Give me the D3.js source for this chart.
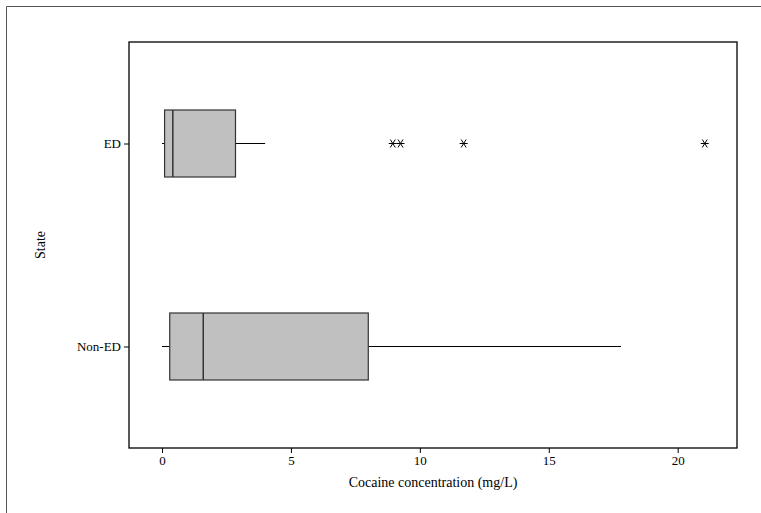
<!DOCTYPE html>
<html><head><meta charset="utf-8">
<script src="https://cdn.jsdelivr.net/npm/d3@7"></script>
<style>body{margin:0;background:#fff}text{font-family:"Liberation Serif","Times New Roman",serif}</style>
</head><body><svg width="761" height="513"></svg>
<script>
var states = ['ED', 'Non-ED'];
var whiskLo = [0, 0];
var q1 = [0.1, 0.3];
var median = [0.42, 1.6];
var q3 = [2.85, 8.0];
var whiskHi = [4.0, 17.8];
var outliers = [[8.95, 9.25, 11.7, 21.05], []];
var xTicks = [0, 5, 10, 15, 20];

var svg = d3.select('svg');
var L = 129, R = 737, T = 42, B = 448;

// outer frame
svg.append('path').attr('d', 'M6.5,513 V6.5 H761').attr('fill', 'none').attr('stroke', '#555');

var x = d3.scaleLinear().domain([-1.28, 22.3]).range([L, R]);
var y = d3.scalePoint().domain(states).range([T, B]).padding(0.5);

svg.append('rect').attr('x', L).attr('y', T).attr('width', R - L).attr('height', B - T)
  .attr('fill', 'none').attr('stroke', '#000').attr('stroke-width', 1.3);

var xa = svg.append('g').attr('transform', 'translate(0,' + B + ')')
  .call(d3.axisBottom(x).tickValues(xTicks).tickSize(5).tickPadding(3));
var ya = svg.append('g').attr('transform', 'translate(' + L + ',0)')
  .call(d3.axisLeft(y).tickSize(5).tickPadding(3));
[xa, ya].forEach(function (a) {
  a.select('.domain').remove();
  a.selectAll('text').attr('font-size', 13).attr('fill', '#000').style('font-family', '"Liberation Serif",serif');
});

var bh = 67;
states.forEach(function (s, i) {
  var cy = y(s);
  svg.append('line').attr('x1', x(whiskLo[i])).attr('x2', x(q1[i])).attr('y1', cy).attr('y2', cy).attr('stroke', '#000');
  svg.append('line').attr('x1', x(q3[i])).attr('x2', x(whiskHi[i])).attr('y1', cy).attr('y2', cy).attr('stroke', '#000');
  svg.append('rect').attr('x', x(q1[i])).attr('y', cy - bh / 2).attr('width', x(q3[i]) - x(q1[i])).attr('height', bh)
    .attr('fill', '#c0c0c0').attr('stroke', '#333').attr('stroke-width', 1.2);
  svg.append('line').attr('x1', x(median[i])).attr('x2', x(median[i])).attr('y1', cy - bh / 2).attr('y2', cy + bh / 2)
    .attr('stroke', '#333').attr('stroke-width', 1.5);
  outliers[i].forEach(function (v) {
    svg.append('path').attr('transform', 'translate(' + x(v) + ',' + cy + ')')
      .attr('d', 'M-4,0H4M-2.5,-4L2.5,4M2.5,-4L-2.5,4').attr('stroke', '#000').attr('fill', 'none');
  });
});

svg.append('text').attr('x', (L + R) / 2).attr('y', 487).attr('text-anchor', 'middle').attr('font-size', 14)
  .text('Cocaine concentration (mg/L)');
svg.append('text').attr('transform', 'translate(45,' + (T + B) / 2 + ') rotate(-90)').attr('text-anchor', 'middle')
  .attr('font-size', 14).text('State');
</script></body></html>
